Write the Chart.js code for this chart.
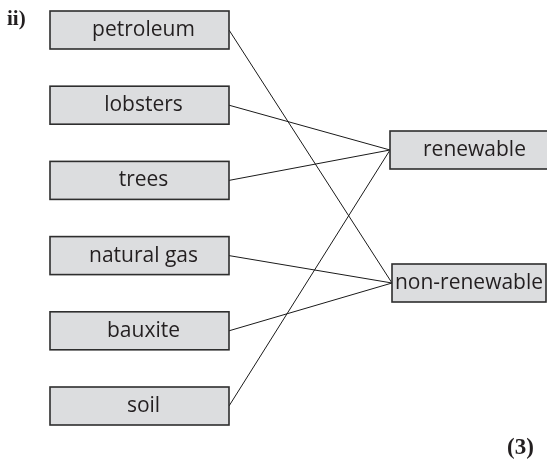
<!DOCTYPE html>
<html>
<head>
<meta charset="utf-8">
<script src="https://cdn.jsdelivr.net/npm/chart.js@4.4.0/dist/chart.umd.min.js"></script>
<style>
  html, body { margin: 0; padding: 0; background: #ffffff; }
  #wrap { width: 547px; height: 460px; position: relative; }
</style>
</head>
<body>
<div id="wrap"><canvas id="matchChart" width="547" height="460"></canvas></div>
<script>
// items on the left, the two categories on the right, and which category each item was joined to
const leftItems = ['petroleum', 'lobsters', 'trees', 'natural gas', 'bauxite', 'soil'];
const rightItems = ['renewable', 'non-renewable'];
const matches = ['non-renewable', 'renewable', 'renewable', 'non-renewable', 'non-renewable', 'renewable'];
const questionLabel = 'ii)';
const marksLabel = '(3)';

// layout (page units = pixels of the 547x460 picture)
const layout = {
    left: { x0: 50, x1: 229, top: 11, step: 75.2, h: 38, dx: 4 },
    right: [
        { x0: 390, x1: 560, y: 150, h: 38, dx: 6 },
        { x0: 392, x1: 546, y: 283, h: 38, dx: 0 }
    ],
    font: "21px 'Open Sans', 'Noto Sans', sans-serif",
    text: '#231f20',
    boxFill: '#dcdddf',
    boxLine: '#2e2e2e'
};

const leftBox = i => {
    const top = layout.left.top + i * layout.left.step;
    return { x0: layout.left.x0, x1: layout.left.x1, y0: top, y1: top + layout.left.h, dx: layout.left.dx };
};
const rightBox = name => {
    const r = layout.right[rightItems.indexOf(name)];
    return { x0: r.x0, x1: r.x1, y0: r.y - r.h / 2, y1: r.y + r.h / 2, dx: r.dx };
};

// one line dataset per joined pair
const lineSets = leftItems.map((item, i) => {
    const a = leftBox(i);
    const b = rightBox(matches[i]);
    return {
        label: item,
        data: [
            { x: a.x1, y: (a.y0 + a.y1) / 2 },
            { x: b.x0, y: (b.y0 + b.y1) / 2 }
        ],
        showLine: true,
        borderColor: '#1a1a1a',
        borderWidth: 1,
        pointRadius: 0,
        fill: false
    };
});

const boxesPlugin = {
    id: 'boxes',
    afterDatasetsDraw(chart) {
        const { ctx, scales: { x, y } } = chart;
        const drawBox = (b, txt) => {
            const px0 = x.getPixelForValue(b.x0), px1 = x.getPixelForValue(b.x1);
            const py0 = y.getPixelForValue(b.y0), py1 = y.getPixelForValue(b.y1);
            ctx.save();
            ctx.fillStyle = layout.boxFill;
            ctx.strokeStyle = layout.boxLine;
            ctx.lineWidth = 1.6;
            ctx.fillRect(px0, py0, px1 - px0, py1 - py0);
            ctx.strokeRect(px0, py0, px1 - px0, py1 - py0);
            ctx.fillStyle = layout.text;
            ctx.font = layout.font;
            ctx.textAlign = 'center';
            ctx.textBaseline = 'middle';
            const cx = (Math.min(px1, chart.width) + px0) / 2 + b.dx;
            ctx.fillText(txt, cx, (py0 + py1) / 2);
            ctx.restore();
        };
        leftItems.forEach((item, i) => drawBox(leftBox(i), item));
        rightItems.forEach(name => drawBox(rightBox(name), name));

        ctx.save();
        ctx.fillStyle = '#231f20';
        ctx.textBaseline = 'alphabetic';
        ctx.textAlign = 'left';
        ctx.font = "bold 21px 'Liberation Serif', 'DejaVu Serif', serif";
        ctx.fillText(questionLabel, x.getPixelForValue(7), y.getPixelForValue(25));
        ctx.font = "bold 23px 'Liberation Serif', 'DejaVu Serif', serif";
        ctx.fillText(marksLabel, x.getPixelForValue(507), y.getPixelForValue(454));
        ctx.restore();
    }
};

new Chart(document.getElementById('matchChart').getContext('2d'), {
    type: 'scatter',
    data: { datasets: lineSets },
    options: {
        responsive: false,
        animation: false,
        layout: { padding: 0 },
        plugins: { legend: { display: false }, tooltip: { enabled: false } },
        scales: {
            x: { type: 'linear', min: 0, max: 547, display: false },
            y: { type: 'linear', min: 0, max: 460, reverse: true, display: false }
        }
    },
    plugins: [boxesPlugin]
});
</script>
</body>
</html>
